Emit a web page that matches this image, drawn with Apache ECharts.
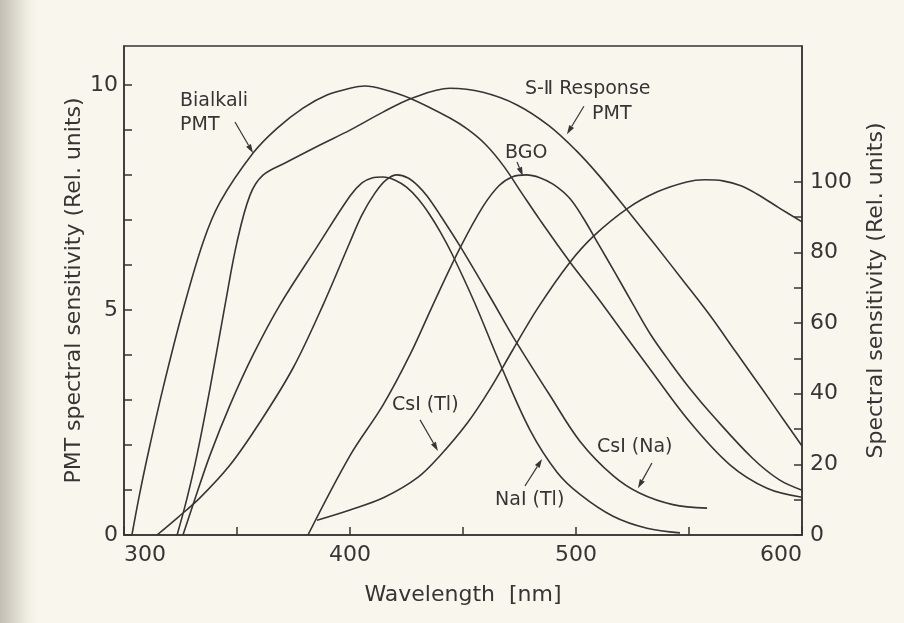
<!DOCTYPE html>
<html>
<head>
<meta charset="utf-8">
<script src="https://cdn.jsdelivr.net/npm/echarts@6/dist/echarts.min.js"></script>
<style>
html,body{margin:0;padding:0;background:#f9f7ed;}
#c{width:904px;height:623px;}
</style>
</head>
<body>
<div id="c"></div>
<script>
// ---- axis ticks / labels ----
const xTicks = [300, 350, 400, 450, 500, 550, 600];
const xLabels = [300, 400, 500, 600];
const leftTicks = [0, 1, 2, 3, 4, 5, 6, 7, 8, 9, 10];
const leftLabels = [0, 5, 10];
const rightTicks = [0, 10, 20, 30, 40, 50, 60, 70, 80, 90, 100];
const rightLabels = [0, 20, 40, 60, 80, 100];

// ---- PMT spectral sensitivity (left axis, rel. units) [wavelength nm, value] ----
const bialkali = [[303.5,0],[307.1,0.96],[311.5,2.0],[317.3,3.27],[326.1,5.0],[335.0,6.51],[342.5,7.4],[357.1,8.49],[367.7,9.04],[379.2,9.49],[389.8,9.78],[400.0,9.93],[406.6,9.98],[414.6,9.91],[426.5,9.71],[444.2,9.27],[452,9.02],[460,8.68],[468,8.2],[476,7.6],[484.1,7.0],[497.3,6.07],[509.3,5.29],[522.6,4.38],[531.4,3.78],[550.4,2.51],[568.1,1.56],[584.5,1.04],[600,0.84]];
const s11 = [[323.5,0],[327.9,0.82],[332.3,1.78],[338.1,3.27],[344.7,5.11],[350.0,6.51],[355.8,7.56],[361.5,8.0],[372.1,8.29],[386.7,8.67],[400.0,9.0],[414.6,9.4],[427.4,9.71],[444.2,9.93],[458.8,9.84],[473.9,9.56],[488.0,9.1],[500.0,8.55],[510.0,8.0],[523.0,7.2],[535.0,6.45],[547.0,5.68],[559.0,4.9],[571.0,4.05],[583.0,3.2],[592.0,2.55],[600,1.98]];

// ---- Scintillator emission spectra (right axis, rel. units) ----
const naiTl = [[326.1,0],[330.5,8.5],[338.1,22.7],[346.9,36.8],[357.1,51.0],[369.0,65.2],[385.4,81.6],[400.0,96.0],[405.3,99.7],[409.7,101.1],[414.6,101.4],[420.0,100.5],[425.0,98.5],[430.0,95.3],[435.0,91.0],[440.0,85.8],[445.0,79.8],[455.0,66.0],[466.4,48.5],[479.6,29.8],[491.6,17.8],[501.8,11.5],[516.4,5.3],[531.4,1.9],[546.0,0.6]];
const csiNa = [[314.6,0],[323.5,4.8],[333.6,10.5],[346.9,19.8],[360.2,32.0],[374.8,47.3],[388.1,65.2],[400.0,83.0],[405.3,90.7],[411.1,96.9],[416.0,100.6],[420.8,102.0],[425.7,101.1],[430.1,98.9],[434.1,96.0],[440.0,90.5],[448.7,81.8],[463.3,66.0],[472.1,56.2],[488.5,39.5],[501.8,26.5],[516.4,16.8],[528.3,11.8],[542.9,8.6],[558.0,7.6]];
const bgo = [[381.4,0],[400.0,22.5],[414.6,36.8],[426.5,51.0],[436.7,65.2],[448.7,81.3],[458.8,93.0],[466.0,99.0],[472.0,101.5],[478.0,102.0],[484.0,101.2],[490.0,99.3],[497.0,95.5],[503.0,90.0],[510.0,82.3],[517.0,74.6],[525.0,65.6],[533.0,56.8],[542.0,48.6],[551.0,41.0],[560.0,34.2],[578.0,21.8],[590.0,15.6],[600,12.7]];
const csiTl = [[385.4,4.2],[400.0,7.1],[415.0,10.6],[430.0,16.3],[440.0,22.6],[452.0,31.8],[462.0,41.4],[472.0,52.4],[483.0,64.2],[497.0,77.0],[508.0,84.8],[523.0,92.6],[536.0,97.2],[549.0,100.0],[557.0,100.6],[565.0,100.3],[573.0,98.9],[580.0,96.6],[590.0,92.6],[600,88.7]];

// ---- annotation texts (anchor in [wavelength, left-axis value]) ----
const labelTexts = ['Bialkali', 'PMT', 'S-Ⅱ Response', 'PMT', 'BGO', 'CsI (Tl)', 'NaI (Tl)', 'CsI (Na)'];
const labelAnchors = [[324.8,9.64],[324.8,9.11],[477.4,9.91],[507.1,9.36],[468.6,8.49],[418.6,2.89],[464.2,0.78],[509.3,1.96]];
const arrowFrom = [[349.1,9.18],[503.5,9.53],[473.9,8.29],[431.0,2.56],[477.4,1.09],[533.6,1.6]];
const arrowTo   = [[357.1,8.49],[496.0,8.91],[476.5,7.98],[438.9,1.87],[485.0,1.69],[527.4,1.04]];

const INK = '#353535';
const FONT = 'DejaVu Sans';

const chart = echarts.init(document.getElementById('c'), null, {renderer: 'canvas'});

function lineSeries(name, data, yIdx) {
  return {
    name: name, type: 'line', data: data, yAxisIndex: yIdx,
    showSymbol: false, smooth: 0.35, animation: false,
    lineStyle: {color: INK, width: 1.6}, itemStyle: {color: INK}, z: 3
  };
}

chart.setOption({
  backgroundColor: '#f9f7ed',
  animation: false,
  grid: {left: 124, right: 102, top: 46, bottom: 88, show: true, borderColor: INK, borderWidth: 1.5, backgroundColor: 'transparent'},
  xAxis: {
    type: 'value', min: 300, max: 600, interval: 50,
    name: 'Wavelength  [nm]', nameLocation: 'middle', nameGap: 49,
    nameTextStyle: {fontFamily: FONT, fontSize: 22, color: INK},
    axisLine: {show: true, lineStyle: {color: INK, width: 1.5}},
    axisTick: {show: true, inside: true, length: 8, customValues: xTicks, lineStyle: {color: INK, width: 1.5}},
    axisLabel: {customValues: xLabels, margin: 9, fontFamily: FONT, fontSize: 22, color: INK, alignMinLabel: 'left', alignMaxLabel: 'right'},
    splitLine: {show: false}
  },
  yAxis: [
    {
      type: 'value', min: 0, max: 10.87, position: 'left',
      name: 'PMT spectral sensitivity (Rel. units)', nameLocation: 'middle', nameGap: 39, nameRotate: 90,
      nameMoveOverlap: false,
      nameTextStyle: {fontFamily: FONT, fontSize: 22, color: INK},
      axisLine: {show: true, lineStyle: {color: INK, width: 1.5}},
      axisTick: {show: true, inside: true, length: 8, customValues: leftTicks, lineStyle: {color: INK, width: 1.5}},
      axisLabel: {customValues: leftLabels, margin: 6, fontFamily: FONT, fontSize: 22, color: INK},
      splitLine: {show: false}
    },
    {
      type: 'value', min: 0, max: 138.5, position: 'right',
      name: 'Spectral sensitivity (Rel. units)', nameLocation: 'middle', nameGap: 63, nameRotate: 90,
      nameMoveOverlap: false,
      nameTextStyle: {fontFamily: FONT, fontSize: 22, color: INK},
      axisLine: {show: true, lineStyle: {color: INK, width: 1.5}},
      axisTick: {show: true, inside: true, length: 8, customValues: rightTicks, lineStyle: {color: INK, width: 1.5}},
      axisLabel: {customValues: rightLabels, margin: 8, fontFamily: FONT, fontSize: 22, color: INK},
      splitLine: {show: false}
    }
  ],
  series: [
    lineSeries('Bialkali PMT', bialkali, 0),
    lineSeries('S-11 Response PMT', s11, 0),
    lineSeries('NaI (Tl)', naiTl, 1),
    lineSeries('CsI (Na)', csiNa, 1),
    lineSeries('BGO', bgo, 1),
    lineSeries('CsI (Tl)', csiTl, 1)
  ]
});

// annotations placed through the axes' own scales
function px(p) { return chart.convertToPixel({xAxisIndex: 0, yAxisIndex: 0}, p); }
const graphics = [];
graphics.push({
  type: 'rect', silent: true, z: -10, x: 0, y: 0,
  shape: {x: 0, y: 0, width: 42, height: 623},
  style: {fill: new echarts.graphic.LinearGradient(0, 0, 1, 0, [
    {offset: 0, color: '#c3bfb3'}, {offset: 0.2, color: '#d0ccc1'}, {offset: 0.55, color: '#e8e5da'}, {offset: 1, color: 'rgba(249,247,237,0)'}
  ])}
});
labelTexts.forEach(function (t, i) {
  const p = px(labelAnchors[i]);
  graphics.push({type: 'text', x: p[0], y: p[1], z: 10,
    style: {text: t, fontFamily: FONT, fontSize: 19, fill: INK, align: 'left', verticalAlign: 'middle'}});
});
arrowFrom.forEach(function (f, i) {
  const a = px(f), b = px(arrowTo[i]);
  const dx = b[0] - a[0], dy = b[1] - a[1], L = Math.hypot(dx, dy);
  const ux = dx / L, uy = dy / L, hl = 9, hw = 2.8;
  const bx = b[0] - ux * hl, by = b[1] - uy * hl;
  graphics.push({type: 'line', z: 10, shape: {x1: a[0], y1: a[1], x2: bx, y2: by}, style: {stroke: INK, lineWidth: 1.2}});
  graphics.push({type: 'polygon', z: 10, shape: {points: [[b[0], b[1]], [bx - uy * hw, by + ux * hw], [bx + uy * hw, by - ux * hw]]}, style: {fill: INK}});
});
chart.setOption({graphic: graphics});
</script>
</body>
</html>
